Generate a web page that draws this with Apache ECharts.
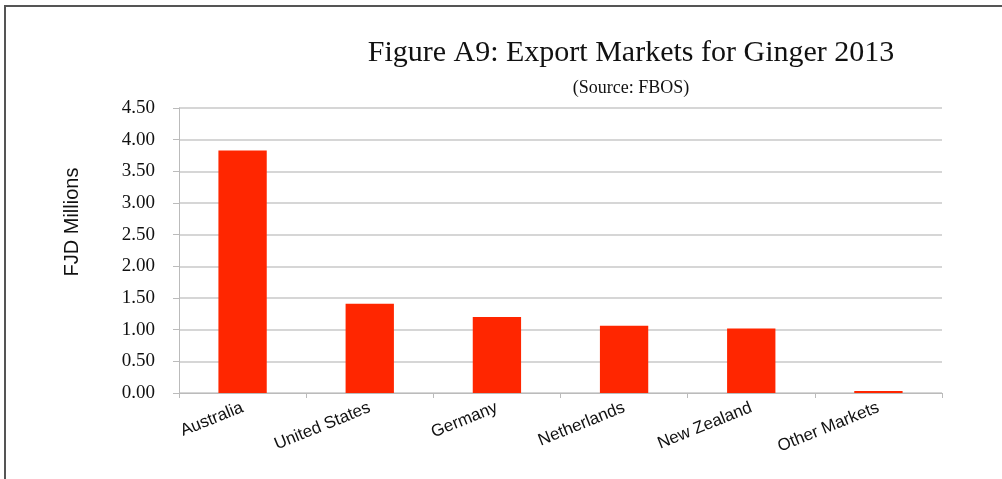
<!DOCTYPE html>
<html>
<head>
<meta charset="utf-8">
<script src="https://cdn.jsdelivr.net/npm/echarts@6/dist/echarts.min.js"></script>
<style>
  html, body { margin: 0; padding: 0; background: #fff; }
  #frame { position: absolute; left: 4px; top: 5px; right: 0; bottom: 0;
           border-top: 2px solid #555; border-left: 2px solid #555; }
  #chart { position: absolute; left: 0; top: 0; width: 1002px; height: 479px; }
</style>
</head>
<body>
<div id="frame"></div>
<div id="chart"></div>
<script>
// Ginger export markets, 2013 (FJD millions)
const markets = ['Australia', 'United States', 'Germany', 'Netherlands', 'New Zealand', 'Other Markets'];
const exportValues = [3.83, 1.41, 1.20, 1.06, 1.02, 0.03];
const yTicks = { min: 0, max: 4.5, interval: 0.5 };

const chart = echarts.init(document.getElementById('chart'), null, { renderer: 'canvas' });

chart.setOption({
  backgroundColor: 'transparent',
  animation: false,
  title: [
    {
      text: 'Figure A9: Export Markets for Ginger 2013',
      left: 626, top: 33, textAlign: 'center',
      textStyle: { fontFamily: 'Liberation Serif', fontSize: 30, fontWeight: 'normal', color: '#111' }
    },
    {
      text: '(Source: FBOS)',
      left: 626, top: 74, textAlign: 'center',
      textStyle: { fontFamily: 'Liberation Serif', fontSize: 18, fontWeight: 'normal', color: '#111' }
    }
  ],
  graphic: [{
    type: 'text',
    x: 62, y: 222,
    rotation: Math.PI / 2,
    style: {
      text: 'FJD Millions',
      font: '20px "Liberation Sans"',
      fill: '#111',
      textAlign: 'center',
      textVerticalAlign: 'top'
    }
  }],
  grid: { left: 179, right: 60, top: 108, bottom: 86, containLabel: false },
  xAxis: {
    type: 'category',
    data: markets,
    axisLine: { show: true, lineStyle: { color: '#bbb', width: 1 } },
    axisTick: { show: true, alignWithLabel: false, length: 5, lineStyle: { color: '#bbb' } },
    axisLabel: {
      interval: 0, rotate: 22, margin: 14,
      fontFamily: 'Liberation Sans', fontSize: 17, color: '#111'
    },
    splitLine: { show: false }
  },
  yAxis: {
    type: 'value',
    min: yTicks.min, max: yTicks.max, interval: yTicks.interval,
    axisLine: { show: true, lineStyle: { color: '#bbb', width: 1 } },
    axisTick: { show: true, length: 6, lineStyle: { color: '#bbb' } },
    axisLabel: {
      margin: 24,
      fontFamily: 'Liberation Serif', fontSize: 19, color: '#111',
      formatter: v => v.toFixed(2)
    },
    splitLine: { show: true, lineStyle: { color: '#c8c8c8', width: 1.5 } }
  },
  series: [{
    type: 'bar',
    data: exportValues,
    barWidth: '38%',
    itemStyle: { color: '#ff2600' }
  }]
});
</script>
</body>
</html>
